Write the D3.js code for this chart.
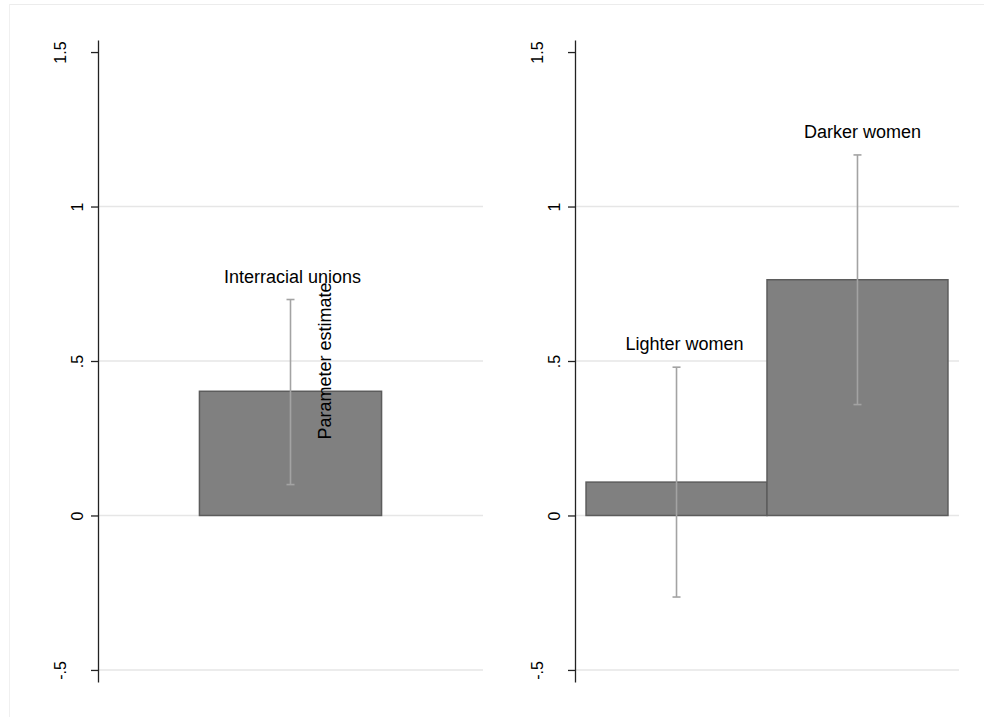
<!DOCTYPE html>
<html>
<head>
<meta charset="utf-8">
<script src="https://cdn.jsdelivr.net/npm/d3@7"></script>
<style>
  html, body { margin: 0; padding: 0; background: #ffffff; }
  svg { display: block; font-family: "Liberation Sans", Arial, Helvetica, sans-serif; }
</style>
</head>
<body>
<svg id="chart" width="984" height="717"></svg>
<script>
// ---- Data ----
const leftCategories = ["Interracial unions"];
const leftEstimates = [0.402];
const leftLower = [0.100];
const leftUpper = [0.699];

const rightCategories = ["Lighter women", "Darker women"];
const rightEstimates = [0.108, 0.763];
const rightLower = [-0.264, 0.359];
const rightUpper = [0.480, 1.167];

const yTicks = [-0.5, 0, 0.5, 1, 1.5];
const yTickLabels = ["-.5", "0", ".5", "1", "1.5"];
const gridValues = [-0.5, 0, 0.5, 1];
const yTitle = "Parameter estimate";

// ---- Layout ----
const svg = d3.select("#chart");
const W = 984, H = 717;

// faint outer frame (top & left edges visible)
svg.append("line").attr("x1", 9).attr("x2", W).attr("y1", 4.5).attr("y2", 4.5)
  .attr("stroke", "#ececec").attr("stroke-width", 1);
svg.append("line").attr("x1", 9.5).attr("x2", 9.5).attr("y1", 4).attr("y2", H)
  .attr("stroke", "#f0f0f0").attr("stroke-width", 1);

const y = d3.scaleLinear().domain([-0.539, 1.539]).range([682, 40]);

function drawPanel(cats, est, lo, hi, x0, x1, padOuter, labelDx, showTitle) {
  const g = svg.append("g");
  const x = d3.scaleBand().domain(cats).range([x0, x1]).paddingInner(0).paddingOuter(padOuter);

  // gridlines
  g.selectAll("line.grid").data(gridValues).enter().append("line")
    .attr("class", "grid")
    .attr("x1", x0).attr("x2", x1)
    .attr("y1", d => y(d)).attr("y2", d => y(d))
    .attr("stroke", "#e6e6e6").attr("stroke-width", 1.5);

  // axis
  const axis = d3.axisLeft(y).tickValues(yTicks)
    .tickFormat((d, i) => yTickLabels[i]).tickSizeInner(7).tickSizeOuter(0).tickPadding(0);
  const ag = g.append("g").attr("transform", `translate(${x0},0)`).call(axis);
  ag.select(".domain").attr("stroke", "#222").attr("stroke-width", 1.3);
  ag.selectAll(".tick line").attr("stroke", "#222").attr("stroke-width", 1.3);
  ag.selectAll(".tick text")
    .attr("fill", "#000")
    .style("font-size", "16px")
    .style("font-family", '"Liberation Sans", Arial, sans-serif')
    .attr("text-anchor", "middle")
    .attr("x", null)
    .attr("transform", function(d, i) {
      const lab = yTickLabels[i];
      const off = lab.length > 2 ? 44 : 27;
      return `translate(${-off},0) rotate(-90)`;
    })
    .attr("y", 0)
    .attr("dy", "0.78em");

  // bars
  g.selectAll("rect.bar").data(cats).enter().append("rect")
    .attr("class", "bar")
    .attr("x", d => x(d))
    .attr("width", x.bandwidth())
    .attr("y", (d, i) => Math.min(y(est[i]), y(0)))
    .attr("height", (d, i) => Math.abs(y(0) - y(est[i])))
    .attr("fill", "#808080")
    .attr("stroke", "#5c5c5c")
    .attr("stroke-width", 1.5);

  // error bars + labels
  const cap = 4;
  cats.forEach((c, i) => {
    const cx = x(c) + x.bandwidth() / 2;
    const eg = g.append("g").attr("stroke", "#a3a3a3").attr("stroke-width", 1.6);
    eg.append("line").attr("x1", cx).attr("x2", cx).attr("y1", y(hi[i])).attr("y2", y(lo[i]));
    eg.append("line").attr("x1", cx - cap).attr("x2", cx + cap).attr("y1", y(hi[i])).attr("y2", y(hi[i]));
    eg.append("line").attr("x1", cx - cap).attr("x2", cx + cap).attr("y1", y(lo[i])).attr("y2", y(lo[i]));
    g.append("text")
      .attr("x", cx + labelDx[i])
      .attr("y", y(hi[i]) - 17)
      .attr("text-anchor", "middle")
      .style("font-size", "18px")
      .attr("fill", "#000")
      .text(c);
  });

  if (showTitle) {
    g.append("text")
      .attr("transform", `translate(${(x0 + x1) / 2 + 40},${y(0.5)}) rotate(-90)`)
      .attr("text-anchor", "middle")
      .style("font-size", "18px")
      .attr("fill", "#000")
      .text(yTitle);
  }
}

drawPanel(leftCategories, leftEstimates, leftLower, leftUpper, 98, 483, 0.557, [2], true);
drawPanel(rightCategories, rightEstimates, rightLower, rightUpper, 575, 959, 0.061, [8, 5], false);
</script>
</body>
</html>
